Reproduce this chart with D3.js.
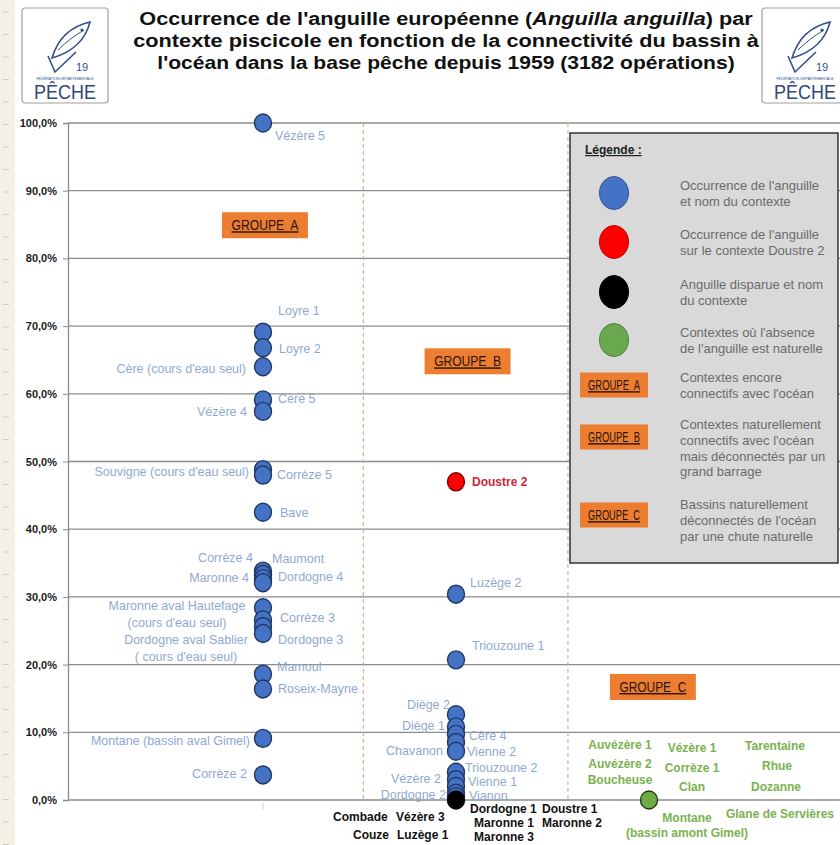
<!DOCTYPE html>
<html>
<head>
<meta charset="utf-8">
<script src="https://cdn.jsdelivr.net/npm/d3@7"></script>
<style>
  body { margin: 0; background: #fff; }
  svg { display: block; }
</style>
</head>
<body>
<div id="chart"></div>
<script>
// Groupe A : contextes encore connectifs (occurrence de l'anguille)
var groupA = ["Vézère 5", "Loyre 1", "Loyre 2", "Cère (cours d'eau seul)", "Cère 5", "Vézère 4",
  "Souvigne (cours d'eau seul)", "Corrèze 5", "Bave", "Corrèze 4", "Maumont", "Maronne 4", "Dordogne 4",
  "Maronne aval Hautefage (cours d'eau seul)", "Corrèze 3", "Dordogne aval Sablier ( cours d'eau seul)",
  "Dordogne 3", "Mamoul", "Roseix-Mayne", "Montane (bassin aval Gimel)", "Corrèze 2"];
var occurrenceA = [1.0, 0.691, 0.668, 0.640, 0.591, 0.574, 0.488, 0.480, 0.425, 0.338, 0.333, 0.327, 0.321,
  0.284, 0.266, 0.256, 0.246, 0.186, 0.164, 0.091, 0.037];

// Groupe B : déconnectés par un grand barrage
var groupB = ["Doustre 2", "Luzège 2", "Triouzoune 1", "Diège 2", "Diège 1", "Cère 4", "Chavanon", "Vienne 2",
  "Triouzoune 2", "Vézère 2", "Vienne 1", "Dordogne 2", "Vianon"];
var occurrenceB = [0.470, 0.304, 0.207, 0.126, 0.108, 0.097, 0.085, 0.072, 0.041, 0.030, 0.020, 0.010, 0.005];
// anguille disparue (0 %)
var lostB = ["Combade", "Vézère 3", "Couze", "Luzège 1", "Dordogne 1", "Doustre 1", "Maronne 1", "Maronne 2", "Maronne 3"];

// Groupe C : absence naturelle (0 %)
var naturalC = ["Auvézère 1", "Auvézère 2", "Boucheuse", "Vézère 1", "Corrèze 1", "Clan", "Tarentaine", "Rhue",
  "Dozanne", "Montane (bassin amont Gimel)", "Glane de Servières"];

var yTicks = [0, 0.1, 0.2, 0.3, 0.4, 0.5, 0.6, 0.7, 0.8, 0.9, 1.0];
var groupLabels = ["GROUPE  A", "GROUPE  B", "GROUPE  C"];

var titleLines = ["Occurrence de l'anguille européenne (|Anguilla anguilla|) par",
  "contexte piscicole en fonction de la connectivité du bassin à",
  "l'océan dans la base pêche depuis 1959 (3182 opérations)"];

var legendItems = [
  { kind: "dot", color: "#4472c4", text: ["Occurrence de l'anguille", "et nom du contexte"] },
  { kind: "dot", color: "#ff0000", text: ["Occurrence de l'anguille", "sur le contexte Doustre 2"] },
  { kind: "dot", color: "#000000", text: ["Anguille disparue et nom", "du contexte"] },
  { kind: "dot", color: "#6aa84f", text: ["Contextes où l'absence", "de l'anguille est naturelle"] },
  { kind: "box", label: "GROUPE  A", text: ["Contextes encore", "connectifs avec l'océan"] },
  { kind: "box", label: "GROUPE  B", text: ["Contextes naturellement", "connectifs avec l'océan", "mais déconnectés par un", "grand barrage"] },
  { kind: "box", label: "GROUPE  C", text: ["Bassins naturellement", "déconnectés de l'océan", "par une chute naturelle"] }
];

// label layout: [dx, dy, anchor, lines]
var labelPos = {
  "Vézère 5": [12, 17, "start"],
  "Loyre 1": [15, -17, "start"],
  "Loyre 2": [16, 5, "start"],
  "Cère (cours d'eau seul)": [-17, 6, "end"],
  "Cère 5": [15, 3, "start"],
  "Vézère 4": [-16, 5, "end"],
  "Souvigne (cours d'eau seul)": [-14, 6, "end"],
  "Corrèze 5": [14, 4, "start"],
  "Bave": [17, 5, "start"],
  "Corrèze 4": [-10, -9, "end"],
  "Maumont": [9, -12, "start"],
  "Maronne 4": [-14, 3, "end"],
  "Dordogne 4": [15, -2, "start"],
  "Maronne aval Hautefage (cours d'eau seul)": [-86, 2, "middle", ["Maronne aval Hautefage", "(cours d'eau seul)"]],
  "Corrèze 3": [17, 2, "start"],
  "Dordogne aval Sablier ( cours d'eau seul)": [-77, 17, "middle", ["Dordogne aval Sablier", "( cours d'eau seul)"]],
  "Dordogne 3": [15, 11, "start"],
  "Mamoul": [14, -3, "start"],
  "Roseix-Mayne": [15, 4, "start"],
  "Montane (bassin aval Gimel)": [-13, 7, "end"],
  "Corrèze 2": [-16, 3, "end"],
  "Doustre 2": [16, 4, "start"],
  "Luzège 2": [14, -7, "start"],
  "Triouzoune 1": [16, -10, "start"],
  "Diège 2": [-6, -6, "end"],
  "Diège 1": [-11, 3, "end"],
  "Cère 4": [13, 6, "start"],
  "Chavanon": [-13, 13, "end"],
  "Vienne 2": [11, 5, "start"],
  "Triouzoune 2": [9, 0, "start"],
  "Vézère 2": [-15, 3, "end"],
  "Vienne 1": [12, 0, "start"],
  "Dordogne 2": [-10, 6, "end"],
  "Vianon": [13, 3, "start"],
  // relative to the 0 % point
  "Combade": [-123, 21, "start"],
  "Vézère 3": [-60, 21, "start"],
  "Couze": [-103, 39, "start"],
  "Luzège 1": [-59, 39, "start"],
  "Dordogne 1": [14, 13, "start"],
  "Doustre 1": [86, 13, "start"],
  "Maronne 1": [18, 27, "start"],
  "Maronne 2": [86, 27, "start"],
  "Maronne 3": [18, 41, "start"],
  "Auvézère 1": [-29, -51, "middle"],
  "Auvézère 2": [-29, -32, "middle"],
  "Boucheuse": [-29, -16, "middle"],
  "Vézère 1": [43, -48, "middle"],
  "Corrèze 1": [43, -28, "middle"],
  "Clan": [43, -9, "middle"],
  "Tarentaine": [126, -50, "middle"],
  "Rhue": [128, -30, "middle"],
  "Dozanne": [127, -9, "middle"],
  "Montane (bassin amont Gimel)": [38, 22, "middle", ["Montane", "(bassin amont Gimel)"]],
  "Glane de Servières": [131, 18, "middle"]
};
// group boxes in data coordinates
var groupBoxPos = [[1.01, 0.849], [2.06, 0.648], [3.02, 0.167]];
var separators = [1.52, 2.58];

var W = 840, H = 845;
var sans = "'Liberation Sans', Arial, sans-serif";

var svg = d3.select("#chart").append("svg")
  .attr("width", W)
  .attr("height", H);

// squeeze a text horizontally to a given width, centred on cx
function fitText(t, cx, cy, width) {
  var len = t.node().getComputedTextLength();
  var k = Math.min(1.2, width / len);
  t.attr("x", 0).attr("y", 0)
    .attr("text-anchor", "middle")
    .attr("transform", "translate(" + cx + "," + cy + ") scale(" + k + ",1)");
}

// left cream strip
svg.append("rect").attr("x", 0).attr("y", 0).attr("width", 15).attr("height", H).attr("fill", "#f4f1e4");
svg.selectAll(".strip-dash")
  .data(d3.range(12, H, 22.5))
  .enter().append("line")
  .attr("x1", 3).attr("x2", 9)
  .attr("y1", d => d).attr("y2", d => d)
  .attr("stroke", "#cfcabb").attr("stroke-width", 1);

var x = d3.scaleLinear().domain([0, 4]).range([70, 842]);
var y = d3.scaleLinear().domain([0, 1]).range([800, 123]);

// gridlines
svg.selectAll(".grid")
  .data(yTicks)
  .enter().append("line")
  .attr("class", "grid")
  .attr("x1", 68).attr("x2", W)
  .attr("y1", d => y(d)).attr("y2", d => y(d))
  .attr("stroke", "#8c8c8c").attr("stroke-width", 1.3);

// separators between groups
svg.selectAll(".sep")
  .data(separators)
  .enter().append("line")
  .attr("x1", d => x(d)).attr("x2", d => x(d))
  .attr("y1", y(1)).attr("y2", y(0))
  .attr("stroke", "#d8b48e").attr("stroke-width", 1.2)
  .attr("stroke-dasharray", "4,3");

// y axis
var fmt = d3.format(".1%");
var yAxis = d3.axisLeft(y)
  .tickValues(yTicks)
  .tickSize(5)
  .tickPadding(6)
  .tickFormat(d => fmt(d).replace(".", ","));
var gy = svg.append("g")
  .attr("transform", "translate(68,0)")
  .call(yAxis);
gy.select(".domain").attr("stroke", "#8c8c8c").attr("stroke-width", 1.3);
gy.selectAll(".tick line").attr("stroke", "#8c8c8c");
gy.selectAll(".tick text")
  .attr("font-family", sans).attr("font-size", 11).attr("font-weight", "bold").attr("fill", "#1a1a1a");

// faint tick under group A
svg.append("line").attr("x1", x(1)).attr("x2", x(1)).attr("y1", 803).attr("y2", 810)
  .attr("stroke", "#d0d0d0").attr("stroke-width", 1);

// points
var ptsA = groupA.map((n, i) => ({ name: n, v: occurrenceA[i], g: 1, color: "#4472c4", stroke: "#1f3864" }));
var ptsB = groupB.map((n, i) => ({ name: n, v: occurrenceB[i], g: 2,
  color: n === "Doustre 2" ? "#ff0000" : "#4472c4", stroke: n === "Doustre 2" ? "#7a0000" : "#1f3864" }));
var ptsLost = [{ v: 0, g: 2, color: "#000000", stroke: "#000000" }];
var ptsNat = [{ v: 0, g: 3, color: "#6fac46", stroke: "#1e3a10" }];

svg.selectAll(".pt")
  .data(ptsA.concat(ptsB, ptsLost, ptsNat))
  .enter().append("ellipse")
  .attr("class", "pt")
  .attr("cx", d => x(d.g))
  .attr("cy", d => y(d.v))
  .attr("rx", 8.5).attr("ry", 9)
  .attr("fill", d => d.color)
  .attr("stroke", d => d.stroke)
  .attr("stroke-width", 1.4);

// labels
function addLabels(names, values, g, style) {
  names.forEach(function(n, i) {
    var p = labelPos[n];
    var lines = p[3] || [n];
    var t = svg.append("text")
      .attr("font-family", sans)
      .attr("font-size", style.size)
      .attr("font-weight", style.weight)
      .attr("fill", style.fill)
      .attr("text-anchor", p[2]);
    lines.forEach(function(l, j) {
      t.append("tspan")
        .attr("x", x(g) + p[0])
        .attr("y", y(values ? values[i] : 0) + p[1] + j * style.lh)
        .text(l);
    });
  });
}
addLabels(groupA, occurrenceA, 1, { size: 12.5, weight: "normal", fill: "#8fa8d2", lh: 17 });
addLabels(groupB.slice(1), occurrenceB.slice(1), 2, { size: 12.5, weight: "normal", fill: "#8fa8d2", lh: 17 });
addLabels(["Doustre 2"], [occurrenceB[0]], 2, { size: 12, weight: "bold", fill: "#c8283a", lh: 16 });
addLabels(lostB, null, 2, { size: 12, weight: "bold", fill: "#111", lh: 16 });
addLabels(naturalC, null, 3, { size: 12, weight: "bold", fill: "#7ab24f", lh: 15 });

// group boxes
function groupBox(parent, cx, cy, label, w, h, tw) {
  var g = parent.append("g").attr("transform", "translate(" + cx + "," + cy + ")");
  g.append("rect").attr("x", -w / 2).attr("y", -h / 2).attr("width", w).attr("height", h).attr("fill", "#ed7d31");
  var t = g.append("text")
    .attr("font-family", sans)
    .attr("font-size", 14)
    .attr("fill", "#2a140a")
    .attr("text-decoration", "underline")
    .style("white-space", "pre")
    .text(label);
  fitText(t, 0, 5, tw);
}
groupBoxPos.forEach(function(p, i) {
  groupBox(svg, x(p[0]), y(p[1]), groupLabels[i], 86, 26, 67);
});

// legend
var lg = svg.append("g").attr("transform", "translate(570,133)");
lg.append("rect").attr("width", 268).attr("height", 430)
  .attr("fill", "#d9d9d9").attr("stroke", "#333").attr("stroke-width", 1.5);
lg.append("text").attr("x", 15).attr("y", 21)
  .attr("font-family", sans).attr("font-size", 12).attr("font-weight", "bold")
  .attr("text-decoration", "underline").attr("fill", "#222")
  .style("white-space", "pre")
  .text("Légende :");
var rowY = [60, 109, 159, 207, 252, 304, 382];
legendItems.forEach(function(it, i) {
  var cy = rowY[i];
  var ty;
  if (it.kind === "dot") {
    lg.append("ellipse").attr("cx", 44).attr("cy", cy).attr("rx", 14.5).attr("ry", 16.5)
      .attr("fill", it.color)
      .attr("stroke", d3.color(it.color).darker(0.8)).attr("stroke-width", 1);
    ty = cy - 3;
  } else {
    groupBox(lg, 44, cy, it.label, 68, 25, 52);
    ty = it.text.length > 3 ? cy - 8 : (it.text.length === 3 ? cy - 6 : cy - 3);
  }
  lg.append("text").attr("x", 110).attr("y", ty)
    .attr("font-family", sans).attr("font-size", 13).attr("fill", "#6b6b6b")
    .selectAll("tspan").data(it.text).enter().append("tspan")
    .attr("x", 110).attr("dy", (d, j) => j === 0 ? 0 : 15.8).text(d => d);
});

// logos
function logo(ox) {
  var g = svg.append("g").attr("transform", "translate(" + ox + ",8)");
  g.append("rect").attr("width", 86).attr("height", 95).attr("rx", 3)
    .attr("fill", "#fff").attr("stroke", "#a0a0a0").attr("stroke-width", 1.2);
  g.append("path")
    .attr("d", "M30,50 C36,30 50,18 68,14 C64,30 52,44 30,50 Z")
    .attr("fill", "none").attr("stroke", "#2f4f8f").attr("stroke-width", 1.6);
  g.append("path")
    .attr("d", "M36,42 C44,34 52,28 62,22")
    .attr("fill", "none").attr("stroke", "#2f4f8f").attr("stroke-width", 1);
  g.append("circle").attr("cx", 60).attr("cy", 22).attr("r", 1.6).attr("fill", "#2f4f8f");
  g.append("path")
    .attr("d", "M26,48 L33,64 L54,44")
    .attr("fill", "none").attr("stroke", "#2f4f8f").attr("stroke-width", 1.6);
  g.append("text").attr("x", 54).attr("y", 63)
    .attr("font-family", sans).attr("font-size", 11).attr("fill", "#2f4f8f").text("19");
  g.append("text").attr("x", 43).attr("y", 72).attr("text-anchor", "middle")
    .attr("font-family", sans).attr("font-size", 3.6).attr("fill", "#2f4f8f").text("FÉDÉRATION DÉPARTEMENTALE");
  var p = g.append("text")
    .attr("font-family", sans).attr("font-size", 21).attr("fill", "#34477a").text("PÊCHE");
  fitText(p, 43, 91, 62);
}
logo(22);
logo(762);

// title
var title = svg.append("g").attr("font-family", sans).attr("font-weight", "bold").attr("font-size", 19).attr("fill", "#111");
var titleW = [614, 626, 578];
titleLines.forEach(function(line, i) {
  var t = title.append("text");
  line.split("|").forEach(function(part, j) {
    t.append("tspan").attr("font-style", j === 1 ? "italic" : "normal").text(part);
  });
  fitText(t, 446, 25 + i * 22, titleW[i]);
});
</script>
</body>
</html>
